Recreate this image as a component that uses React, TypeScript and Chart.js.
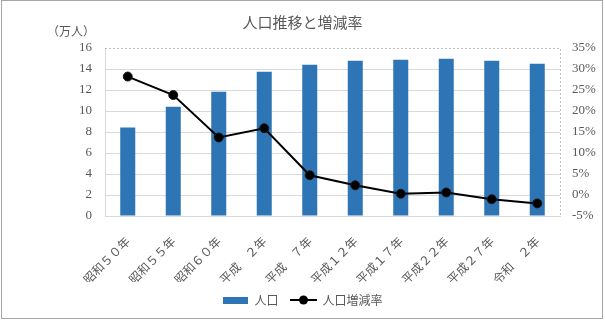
import React, { useEffect, useRef } from "react";
import { Chart, registerables } from "chart.js";

Chart.register(...registerables);

const categories = [
  "昭和５０年",
  "昭和５５年",
  "昭和６０年",
  "平成　２年",
  "平成　７年",
  "平成１２年",
  "平成１７年",
  "平成２２年",
  "平成２７年",
  "令和　２年",
];
const population = [8.43, 10.4, 11.83, 13.74, 14.4, 14.79, 14.88, 14.98, 14.79, 14.5];
const changeRate = [28.2, 23.8, 13.7, 15.9, 4.7, 2.3, 0.3, 0.6, -1.0, -2.0];

const titleText = "人口推移と増減率";
const unitText = "（万人）";
const barLabel = "人口";
const lineLabel = "人口増減率";

const BAR_COLOR = "#2E75B6";
const TEXT_COLOR = "#595959";
const GRID_COLOR = "#d9d9d9";
const FONT = "'Liberation Serif', 'Noto Sans CJK JP', serif";
const CJK_FONT = "'Noto Sans CJK JP', sans-serif";

function makeBarIcon() {
  const c = document.createElement("canvas");
  c.width = 25;
  c.height = 7;
  const ctx = c.getContext("2d")!;
  ctx.fillStyle = BAR_COLOR;
  ctx.fillRect(0, 0, 25, 7);
  return c;
}
function makeLineIcon() {
  const c = document.createElement("canvas");
  c.width = 27;
  c.height = 10;
  const ctx = c.getContext("2d")!;
  ctx.strokeStyle = "#000";
  ctx.lineWidth = 2;
  ctx.beginPath();
  ctx.moveTo(0, 5);
  ctx.lineTo(27, 5);
  ctx.stroke();
  ctx.fillStyle = "#000";
  ctx.beginPath();
  ctx.arc(13.5, 5, 4.5, 0, Math.PI * 2);
  ctx.fill();
  return c;
}

const decorPlugin = {
  id: "decor",
  beforeDatasetsDraw(chart: any) {
    const { ctx, chartArea } = chart;
    ctx.save();
    ctx.strokeStyle = "#bfbfbf";
    ctx.lineWidth = 1;
    ctx.setLineDash([2, 2]);
    ctx.beginPath();
    ctx.moveTo(chartArea.left, Math.round(chartArea.top) + 0.5);
    ctx.lineTo(Math.round(chartArea.right) + 0.5, Math.round(chartArea.top) + 0.5);
    ctx.lineTo(Math.round(chartArea.right) + 0.5, chartArea.bottom);
    ctx.stroke();
    ctx.restore();
  },
  afterDraw(chart: any) {
    const { ctx } = chart;
    ctx.save();
    ctx.strokeStyle = "#a6a6a6";
    ctx.lineWidth = 1;
    ctx.strokeRect(1.5, 0.5, 601, 318);
    ctx.fillStyle = TEXT_COLOR;
    ctx.font = "12px " + CJK_FONT;
    ctx.textAlign = "right";
    ctx.textBaseline = "middle";
    ctx.fillText(unitText, 95, 31);
    ctx.restore();
  },
};

export default function App() {
  const ref = useRef<HTMLCanvasElement>(null);

  useEffect(() => {
    if (!ref.current) return;
    const barIcon = makeBarIcon();
    const lineIcon = makeLineIcon();
    const chart = new Chart(ref.current, {
      data: {
        labels: categories,
        datasets: [
          {
            type: "line",
            label: lineLabel,
            data: changeRate,
            yAxisID: "y1",
            borderColor: "#000",
            backgroundColor: "#000",
            borderWidth: 2,
            pointRadius: 4.5,
            pointBackgroundColor: "#000",
            pointBorderColor: "#1a1a1a",
            pointBorderWidth: 1,
            order: 0,
          },
          {
            type: "bar",
            label: barLabel,
            data: population,
            yAxisID: "y",
            backgroundColor: BAR_COLOR,
            barPercentage: 0.33,
            categoryPercentage: 1,
            order: 1,
          },
        ],
      } as any,
      options: {
        responsive: false,
        animation: false,
        layout: { padding: { left: 0, right: 0, top: 0, bottom: 4 } },
        plugins: {
          title: {
            display: true,
            text: titleText,
            color: TEXT_COLOR,
            font: { family: CJK_FONT, size: 15, weight: "normal" },
            padding: { top: 13, bottom: 17 },
          },
          legend: {
            position: "bottom",
            labels: {
              usePointStyle: true,
              pointStyleWidth: 26,
              boxHeight: 10,
              padding: 12,
              color: TEXT_COLOR,
              font: { family: CJK_FONT, size: 12 },
              generateLabels: () => [
                {
                  text: barLabel,
                  pointStyle: barIcon,
                  fillStyle: BAR_COLOR,
                  strokeStyle: BAR_COLOR,
                  lineWidth: 0,
                  hidden: false,
                  datasetIndex: 1,
                  fontColor: TEXT_COLOR,
                },
                {
                  text: lineLabel,
                  pointStyle: lineIcon,
                  fillStyle: "#000",
                  strokeStyle: "#000",
                  lineWidth: 0,
                  hidden: false,
                  datasetIndex: 0,
                  fontColor: TEXT_COLOR,
                },
              ] as any,
            },
          },
          tooltip: { enabled: false },
        },
        scales: {
          x: {
            grid: { display: false },
            border: { display: true, color: GRID_COLOR },
            ticks: {
              autoSkip: false,
              minRotation: 45,
              maxRotation: 45,
              padding: 10,
              color: TEXT_COLOR,
              font: { family: CJK_FONT, size: 12 },
            },
            afterFit: (s: any) => {
              s.height = 66;
            },
          },
          y: {
            position: "left",
            min: 0,
            max: 16,
            ticks: {
              stepSize: 2,
              padding: 13,
              color: TEXT_COLOR,
              font: { family: FONT, size: 13 },
            },
            grid: {
              drawTicks: false,
              color: (c: any) => (c.tick && c.tick.value === 16 ? "rgba(0,0,0,0)" : GRID_COLOR),
            },
            border: { display: true, color: GRID_COLOR },
            afterFit: (s: any) => {
              s.width = 105;
            },
          },
          y1: {
            position: "right",
            min: -5,
            max: 35,
            ticks: {
              stepSize: 5,
              padding: 12,
              color: TEXT_COLOR,
              font: { family: FONT, size: 13 },
              callback: (v: any) => v + "%",
            },
            grid: { drawOnChartArea: false, drawTicks: false },
            border: { display: false },
            afterFit: (s: any) => {
              s.width = 45;
            },
          },
        },
      },
      plugins: [decorPlugin],
    });
    return () => chart.destroy();
  }, []);

  return (
    <div style={{ position: "fixed", left: 0, top: 0, width: 605, height: 320, background: "#fff" }}>
      <canvas ref={ref} width={605} height={320} style={{ width: 605, height: 320, display: "block" }} />
    </div>
  );
}
